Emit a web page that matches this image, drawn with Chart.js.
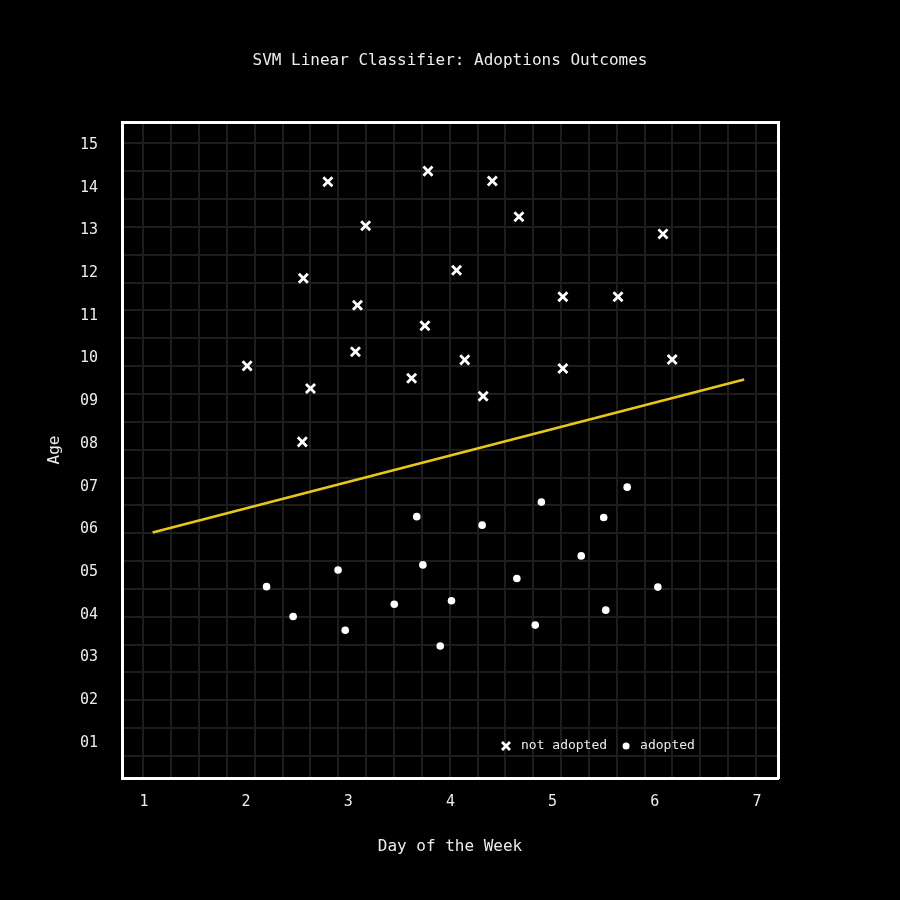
<!DOCTYPE html>
<html>
<head>
<meta charset="utf-8">
<script src="https://cdn.jsdelivr.net/npm/chart.js@4.4.1/dist/chart.umd.min.js"></script>
<style>
  html, body { margin: 0; padding: 0; background: #000; }
  #wrap { width: 900px; height: 900px; }
</style>
</head>
<body>
<div id="wrap"><canvas id="c" width="900" height="900"></canvas></div>
<script>
// ---- data ----
const notAdoptedDay = [2.01, 2.56, 2.63, 2.55, 2.80, 3.17, 3.09, 3.07, 3.78, 3.75, 3.62, 4.06, 4.14, 4.32, 4.41, 4.67, 5.10, 5.10, 5.64, 6.08, 6.17];
const notAdoptedAge = [9.83, 11.88, 9.30, 8.05, 14.14, 13.11, 11.25, 10.16, 14.39, 10.77, 9.54, 12.07, 9.97, 9.12, 14.16, 13.32, 11.45, 9.77, 11.45, 12.92, 9.98];
const adoptedDay = [2.20, 2.46, 2.90, 2.97, 3.45, 3.67, 3.73, 3.90, 4.01, 4.31, 4.65, 4.83, 4.89, 5.28, 5.50, 5.52, 5.73, 6.03];
const adoptedAge = [4.66, 3.96, 5.05, 3.64, 4.25, 6.30, 5.17, 3.27, 4.33, 6.10, 4.85, 3.76, 6.64, 5.38, 6.28, 4.11, 6.99, 4.65];
const boundaryDay = [1.085, 6.875];
const boundaryAge = [5.93, 9.51];
const xTickValues = [1, 2, 3, 4, 5, 6, 7];
const yTickValues = [1, 2, 3, 4, 5, 6, 7, 8, 9, 10, 11, 12, 13, 14, 15];
const yTickLabels = ['01', '02', '03', '04', '05', '06', '07', '08', '09', '10', '11', '12', '13', '14', '15'];
const seriesLabels = ['not adopted', 'adopted'];
const titleText = 'SVM Linear Classifier: Adoptions Outcomes';
const xTitle = 'Day of the Week';
const yTitle = 'Age';

// ---- styling ----
const FONT = '"DejaVu Sans Mono", "Liberation Mono", monospace';
const TEXT = '#ececec';
const GRID = '#1d1d1d';
const LINE = '#e8c71d';
const gridCount = 23;

const toPts = (xs, ys) => xs.map((x, i) => ({ x: x, y: ys[i] }));

const bgPlugin = {
  id: 'bg',
  beforeDraw(chart) {
    const { ctx, width, height } = chart;
    ctx.save();
    ctx.fillStyle = '#000';
    ctx.fillRect(0, 0, width, height);
    ctx.restore();
  }
};

const legendPlugin = {
  id: 'insideLegend',
  afterDatasetsDraw(chart) {
    const { ctx, chartArea } = chart;
    const y = chartArea.bottom - 32;
    let x = chartArea.right - 272;
    ctx.save();
    ctx.font = '13px ' + FONT;
    ctx.textBaseline = 'middle';
    ctx.textAlign = 'left';
    // cross marker
    ctx.strokeStyle = '#fff';
    ctx.lineWidth = 2.8;
    const r = 4;
    ctx.beginPath();
    ctx.moveTo(x - r, y - r); ctx.lineTo(x + r, y + r);
    ctx.moveTo(x + r, y - r); ctx.lineTo(x - r, y + r);
    ctx.stroke();
    ctx.fillStyle = TEXT;
    const t1 = chart.data.datasets[0].label;
    ctx.fillText(t1, x + 15, y);
    x = x + 15 + ctx.measureText(t1).width + 19;
    ctx.fillStyle = '#fff';
    ctx.beginPath();
    ctx.arc(x, y, 3.5, 0, Math.PI * 2);
    ctx.fill();
    ctx.fillStyle = TEXT;
    ctx.fillText(chart.data.datasets[1].label, x + 14, y);
    ctx.restore();
  }
};

new Chart(document.getElementById('c'), {
  type: 'scatter',
  data: {
    datasets: [
      {
        label: seriesLabels[0],
        data: toPts(notAdoptedDay, notAdoptedAge),
        pointStyle: 'crossRot',
        pointRadius: 6.4,
        pointBorderWidth: 2.8,
        borderColor: '#fff',
        backgroundColor: '#fff'
      },
      {
        label: seriesLabels[1],
        data: toPts(adoptedDay, adoptedAge),
        pointStyle: 'circle',
        pointRadius: 3.8,
        pointBorderWidth: 0,
        borderColor: '#fff',
        backgroundColor: '#fff'
      },
      {
        label: 'boundary',
        data: toPts(boundaryDay, boundaryAge),
        showLine: true,
        pointRadius: 0,
        borderColor: LINE,
        borderWidth: 2.6,
        backgroundColor: LINE
      }
    ]
  },
  options: {
    responsive: false,
    animation: false,
    layout: { padding: 0 },
    plugins: {
      legend: { display: false },
      tooltip: { enabled: false },
      title: {
        display: true,
        text: titleText,
        color: TEXT,
        font: { family: FONT, size: 16, weight: 'normal' },
        padding: { top: 51.4, bottom: 51.4 }
      }
    },
    scales: {
      x: {
        type: 'linear',
        position: 'bottom',
        min: 0.785,
        max: 7.206,
        afterBuildTicks(s) { s.ticks = xTickValues.map(v => ({ value: v })); },
        afterFit(s) { s.height = 122; },
        grid: { display: false, drawTicks: false },
        border: { display: true, color: '#fff', width: 3 },
        ticks: { color: TEXT, font: { family: FONT, size: 15 }, padding: 15, maxRotation: 0 },
        title: { display: true, text: xTitle, color: TEXT, font: { family: FONT, size: 16 }, padding: { top: 0, bottom: 43.4 } }
      },
      y: {
        type: 'linear',
        position: 'left',
        min: 0.18,
        max: 15.54,
        afterBuildTicks(s) { s.ticks = yTickValues.map(v => ({ value: v })); },
        afterFit(s) { s.width = 122; },
        grid: { display: false, drawTicks: false },
        border: { display: true, color: '#fff', width: 3 },
        ticks: {
          color: TEXT, font: { family: FONT, size: 15 }, padding: 24,
          callback: (v) => yTickLabels[yTickValues.indexOf(v)]
        },
        title: { display: true, text: yTitle, color: TEXT, font: { family: FONT, size: 16 }, padding: { top: 45.4, bottom: 0 } }
      },
      gx: {
        type: 'linear',
        position: 'top',
        z: -1,
        min: -0.765,
        max: 22.79,
        afterBuildTicks(s) { s.ticks = Array.from({ length: gridCount }, (_, k) => ({ value: k })); },
        afterFit(s) { s.height = 0; },
        grid: { display: true, color: GRID, lineWidth: 2, drawTicks: false },
        border: { display: true, color: '#fff', width: 3 },
        ticks: { display: false }
      },
      gy: {
        type: 'linear',
        position: 'right',
        reverse: true,
        z: -1,
        min: -0.765,
        max: 22.79,
        afterBuildTicks(s) { s.ticks = Array.from({ length: gridCount }, (_, k) => ({ value: k })); },
        afterFit(s) { s.width = 122; },
        grid: { display: true, color: GRID, lineWidth: 2, drawTicks: false },
        border: { display: true, color: '#fff', width: 3 },
        ticks: { display: false }
      }
    }
  },
  plugins: [bgPlugin, legendPlugin]
});
</script>
</body>
</html>
